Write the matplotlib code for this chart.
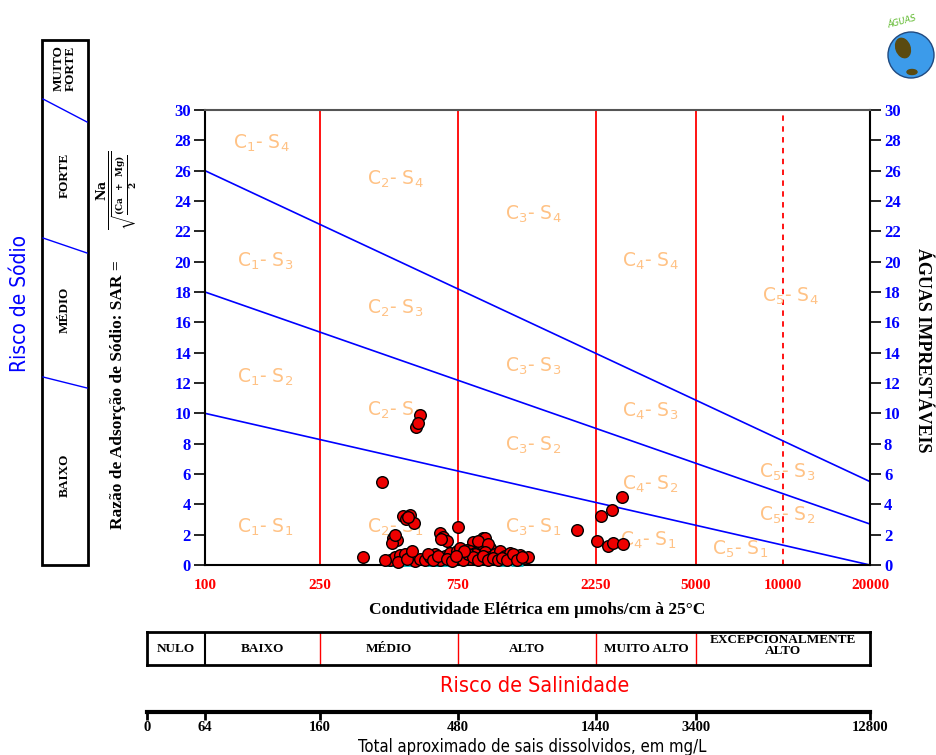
import matplotlib
matplotlib.use("Agg")
import matplotlib.pyplot as plt
from matplotlib.patches import Rectangle, Circle, Ellipse

# ---- data ----
ec = [555, 537, 545, 409, 750, 1937, 2773, 2559, 2344, 2270, 2479, 2582, 2795, 352,
      484, 512, 497, 528, 503, 447, 462, 445, 455, 650, 665, 690, 655,
      846, 916, 931, 895, 807, 969, 826, 860, 880, 950,
      437, 454, 473, 492, 512, 533, 555, 577, 601, 625, 650, 677, 704, 733, 763, 794,
      826, 860, 895, 931, 969, 1008, 1049, 1092, 1136, 1182, 1230, 1280, 1312,
      420, 465, 500, 520, 590, 615, 640, 690, 715, 745, 780, 810, 845, 880, 915,
      950, 990, 1030, 1070, 1110, 1160, 1200, 1250, 760, 790, 740]
sar = [9.9, 9.1, 9.35, 5.5, 2.5, 2.3, 4.5, 3.6, 3.2, 1.55, 1.25, 1.45, 1.4, 0.55,
       3.2, 3.3, 3.05, 2.75, 3.15, 1.8, 1.65, 1.45, 1.95, 2.1, 1.85, 1.6, 1.7,
       1.5, 1.8, 1.75, 1.3, 1.0, 1.15, 0.95, 0.8, 1.6, 1.4,
       0.35, 0.55, 0.65, 0.75, 0.5, 0.25, 0.4, 0.3, 0.55, 0.7, 0.35, 0.6, 0.8, 0.45, 0.7, 0.5,
       0.4, 0.75, 0.45, 0.85, 0.55, 0.7, 0.9, 0.6, 0.8, 0.55, 0.65, 0.45, 0.5,
       0.3, 0.2, 0.4, 0.9, 0.7, 0.3, 0.6, 0.4, 0.25, 0.9, 0.3, 0.75, 0.55, 0.3, 0.6,
       0.35, 0.45, 0.3, 0.45, 0.35, 0.75, 0.35, 0.5, 1.1, 0.9, 0.6]
ec_zero = [445, 470, 495, 615, 650, 700, 1075, 1200]

# class boundary lines (SAR at EC=100 and EC=20000)
line_ec = [100, 20000]
line_s1 = [10, 0]
line_s2 = [18, 2.7]
line_s3 = [26, 5.5]
ec_limits = [250, 750, 2250, 5000]
ec_dashed = 10000

ec_ticks = [100, 250, 750, 2250, 5000, 10000, 20000]
sar_ticks = list(range(0, 31, 2))

zone_labels = [r'C$_1$- S$_4$', r'C$_2$- S$_4$', r'C$_3$- S$_4$', r'C$_4$- S$_4$', r'C$_5$- S$_4$',
               r'C$_1$- S$_3$', r'C$_2$- S$_3$', r'C$_3$- S$_3$', r'C$_4$- S$_3$', r'C$_5$- S$_3$',
               r'C$_1$- S$_2$', r'C$_2$- S$_2$', r'C$_3$- S$_2$', r'C$_4$- S$_2$', r'C$_5$- S$_2$',
               r'C$_1$- S$_1$', r'C$_2$- S$_1$', r'C$_3$- S$_1$', r'C$_4$- S$_1$', r'C$_5$- S$_1$']
zone_pos = [(157, 27.8), (454, 25.4), (1365, 23.1), (3467, 20.0), (10570, 17.7),
            (161, 20.0), (454, 16.9), (1365, 13.1), (3467, 10.1), (10300, 6.1),
            (161, 12.4), (454, 10.2), (1365, 7.9), (3467, 5.3), (10300, 3.3),
            (161, 2.5), (454, 2.5), (1365, 2.5), (3400, 1.65), (7100, 1.0)]

sal_classes = ['NULO', 'BAIXO', 'MÉDIO', 'ALTO', 'MUITO ALTO', 'EXCEPCIONALMENTE\nALTO']
sal_bounds = [63, 100, 250, 750, 2250, 5000, 20000]
tds_labels = ['0', '64', '160', '480', '1440', '3400', '12800']

sodium_classes = ['BAIXO', 'MÉDIO', 'FORTE', 'MUITO\nFORTE']

serif = ['Liberation Serif', 'DejaVu Serif']
narrow = ['DejaVu Sans']
BLUE = '#0000FF'
RED = '#FF0000'
ORANGE = '#FFC285'

fig = plt.figure(figsize=(9.36, 7.55), dpi=100)

# overlay in pixel coordinates for the decorations
ov = fig.add_axes([0, 0, 1, 1])
ov.set_xlim(0, 936)
ov.set_ylim(755, 0)
ov.axis('off')

# sodium risk box
ov.add_patch(Rectangle((42, 40), 46, 525, fill=False, lw=2, ec='black'))
for (ya, yb) in [(99, 122), (238, 253), (377, 388)]:
    ov.plot([43, 87], [ya, yb], color=BLUE, lw=1)
for lab, yc in zip(sodium_classes, [475, 310, 175, 68]):
    ov.text(65, yc, lab, rotation=90, ha='center', va='center', fontsize=9.5,
            fontweight='bold', family=serif, linespacing=1.0)
ov.text(20, 303, 'Risco de Sódio', rotation=90, ha='center', va='center',
        fontsize=15, color=BLUE, family=narrow, fontstretch='condensed')
ov.text(118, 395, 'Razão de Adsorção de Sódio: SAR =', rotation=90, ha='center',
        va='center', fontsize=12.5, fontweight='bold', family=serif)
ov.text(117, 190, r'$\frac{\mathbf{Na}}{\sqrt{\frac{\mathbf{(Ca\ \ +\ \ Mg)}}{\mathbf{2}}}}$',
        rotation=90, ha='center', va='center', fontsize=13, math_fontfamily='dejavuserif')
ov.text(923, 350, 'ÁGUAS IMPRESTÁVEIS', rotation=-90, ha='center', va='center',
        fontsize=13, fontweight='bold', family=serif)

# globe logo
ov.add_patch(Circle((911, 55), 23, color='#3C9BEA', ec='#204a80', lw=1))
ov.add_patch(Ellipse((903, 48), 14, 20, angle=-20, color='#5a4a10'))
ov.add_patch(Ellipse((912, 72), 10, 5, color='#5a4a10'))
ov.text(902, 22, 'ÁGUAS', fontsize=6, color='#5cb82a', ha='center', va='center',
        rotation=15, style='italic')

# main diagram
ax = fig.add_axes([205 / 936, 190 / 755, 665 / 936, 455 / 755])
ax.set_xscale('log')
ax.set_xlim(100, 20000)
ax.set_ylim(0, 30)

for e in ec_limits:
    ax.axvline(e, color=RED, lw=1.3, zorder=1)
ax.axvline(ec_dashed, color=RED, lw=1.3, ls=(0, (3, 3)), zorder=1)

ax.plot(line_ec, line_s1, color=BLUE, lw=1.2, zorder=2)
ax.plot(line_ec, line_s2, color=BLUE, lw=1.2, zorder=2)
ax.plot(line_ec, line_s3, color=BLUE, lw=1.2, zorder=2)

for lab, (x, y) in zip(zone_labels, zone_pos):
    ax.text(x, y, lab, color=ORANGE, fontsize=13.5, ha='center', va='center',
            family='DejaVu Sans', math_fontfamily='dejavusans', zorder=2)

ax.plot(ec_zero, [0] * len(ec_zero), ls='none', marker='_', color='#00B8C0',
        ms=8, mew=2, clip_on=False, zorder=3)
ax.scatter(ec, sar, s=70, color='#EE0000', edgecolors='black', linewidths=1,
           clip_on=False, zorder=4)

ax.set_yticks(sar_ticks)
ax.set_xticks(ec_ticks)
ax.set_xticklabels([str(t) for t in ec_ticks])
ax.minorticks_off()
ax.tick_params(axis='y', left=True, right=True, labelleft=True, labelright=True,
               direction='out', length=8, width=1.2, labelcolor=BLUE, labelsize=12, pad=2)
ax.tick_params(axis='x', length=0, labelcolor=RED, labelsize=11, pad=10)
for t in ax.get_yticklabels() + ax.get_xticklabels():
    t.set_fontweight('bold')
    t.set_family(serif)
for s in ['left', 'right', 'bottom']:
    ax.spines[s].set_linewidth(1.5)
ax.spines['top'].set_color('#555555')
ax.spines['top'].set_linewidth(1.5)
ax.set_xlabel('Condutividade Elétrica em µmohs/cm à 25°C', fontsize=12.5,
              fontweight='bold', family=serif, labelpad=7)

# salinity risk box
sb = fig.add_axes([147 / 936, 90 / 755, 723 / 936, 33 / 755])
sb.set_xscale('log')
sb.set_xlim(sal_bounds[0], sal_bounds[-1])
sb.set_ylim(0, 1)
sb.set_xticks([])
sb.set_yticks([])
sb.minorticks_off()
for s in sb.spines.values():
    s.set_linewidth(2)
sb.axvline(sal_bounds[1], color='black', lw=1.5)
for e in sal_bounds[2:-1]:
    sb.axvline(e, color=RED, lw=1)
for i, lab in enumerate(sal_classes):
    xc = (sal_bounds[i] * sal_bounds[i + 1]) ** 0.5
    sb.text(xc, 0.5 if '\n' not in lab else 0.58, lab, ha='center', va='center',
            fontsize=9.5, fontweight='bold', family=serif, linespacing=0.9)
fig.text(535 / 936, 1 - 686 / 755, 'Risco de Salinidade', color=RED, fontsize=15.5,
         family=narrow, fontstretch='condensed', ha='center', va='center')

# total dissolved solids scale
tb = fig.add_axes([147 / 936, 43 / 755, 723 / 936, 0.001])
tb.set_xscale('log')
tb.set_xlim(sal_bounds[0], sal_bounds[-1])
tb.set_yticks([])
for s in ['left', 'right', 'top']:
    tb.spines[s].set_visible(False)
tb.spines['bottom'].set_linewidth(3)
tb.set_xticks(sal_bounds)
tb.set_xticklabels(tds_labels)
tb.minorticks_off()
tb.tick_params(axis='x', direction='out', length=6, width=2, labelsize=10.5, pad=0.5)
for t in tb.get_xticklabels():
    t.set_fontweight('bold')
    t.set_family(serif)
fig.text(532 / 936, 1 - 747 / 755, 'Total aproximado de sais dissolvidos, em mg/L',
         fontsize=12, family=narrow, fontstretch='condensed', ha='center', va='center')

fig.savefig('out.png', dpi=100)
